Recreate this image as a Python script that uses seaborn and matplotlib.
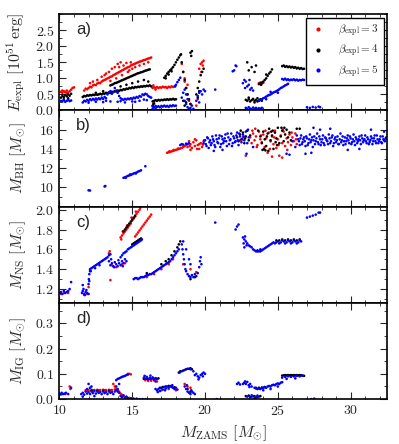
import numpy as np
import pandas as pd
import matplotlib
matplotlib.use("Agg")
import matplotlib.pyplot as plt
import seaborn as sns
from matplotlib.ticker import MultipleLocator, AutoMinorLocator

# ---------------- data ----------------
# panel a) explosion energy [1e51 erg]
a_red = [(10.1,0.58),(10.2,0.55),(10.3,0.6),(10.4,0.57),(10.5,0.62),(10.6,0.56),(10.7,0.6),(10.8,0.65),(10.9,0.7),(11.0,0.72),(10.2,0.62),(10.5,0.55),
         (11.7,0.62),(11.8,0.68),(11.9,0.66),(12.0,0.7),(12.1,0.74),(12.2,0.72),(12.3,0.78),(12.4,0.8),(12.5,0.79),(12.6,0.84),(12.7,0.86),(12.8,0.85),
         (12.9,0.9),(13.0,0.93),(13.1,0.95),(13.2,0.97),(13.3,1.0),(13.4,1.02),(13.5,1.05),(13.6,1.06),(13.7,1.1),(13.8,1.12),(13.9,1.15),(14.0,1.17),
         (14.1,1.2),(14.2,1.22),(14.3,1.25),(14.4,1.27),(14.5,1.3),(14.6,1.32),(14.7,1.35),(14.8,1.36),(14.9,1.4),(15.0,1.42),(15.1,1.44),(15.2,1.46),
         (15.3,1.48),(15.4,1.5),(15.5,1.52),(15.6,1.53),(15.7,1.55),(15.8,1.57),(15.9,1.58),(16.0,1.6),(16.1,1.62),(16.2,1.63),(16.3,1.65),
         (12.3,0.9),(12.6,0.95),(12.9,1.05),(13.2,1.15),(13.4,1.2),(13.6,1.3),(13.8,1.35),(14.0,1.45),(14.2,1.5),(14.4,1.4),(14.6,1.48),(14.8,1.25),
         (15.0,1.3),(15.2,1.35),(13.5,0.92),(13.9,1.0),(14.3,1.1),(14.7,1.2),(15.5,1.4),(15.8,1.45),(16.1,1.5),(13.1,1.1),(14.1,1.35),(14.9,1.5),(12.1,0.85),
         (16.4,0.7),(16.5,0.72),(16.6,0.7),(16.7,0.73),(16.8,0.7),(16.9,0.72),(17.0,0.71),(17.1,0.74),(17.2,0.72),(17.3,0.73),(17.4,0.7),(17.5,0.74),
         (17.6,0.72),(17.7,0.75),(17.8,0.73),(17.9,0.75),(16.45,0.78),(16.6,0.65),
         (18.4,1.45),(18.5,1.2),(18.6,0.9),(18.7,0.7),(18.8,0.5),(18.9,0.3),(19.0,0.2),(18.6,1.0),(18.8,0.8),(19.4,0.15),(19.5,0.35),(19.6,1.3),
         (19.7,1.45),(19.8,1.5),(19.85,1.4),(19.9,1.55),(19.75,1.2),(23.7,0.85),(23.8,0.87),(23.9,0.84),(24.0,0.86)]
a_blk = [(10.1,0.4),(10.2,0.45),(10.3,0.42),(10.4,0.48),(10.5,0.44),(10.6,0.5),(10.7,0.46),(10.8,0.52),(10.3,0.35),(10.6,0.38),
         (11.6,0.42),(11.7,0.45),(11.8,0.44),(11.9,0.47),(12.0,0.46),(12.1,0.48),(12.2,0.47),(12.3,0.49),(12.4,0.48),(12.5,0.5),(12.6,0.49),(12.7,0.5),
         (12.8,0.52),(12.9,0.5),(13.0,0.53),(13.1,0.52),(13.2,0.55),(13.3,0.54),(13.4,0.56),(13.5,0.55),(13.6,0.58),(13.7,0.57),(13.8,0.6),(13.9,0.59),
         (14.0,0.62),(14.1,0.61),(14.2,0.64),(14.3,0.63),(14.4,0.66),(14.5,0.65),(14.6,0.68),(14.7,0.67),(14.8,0.7),(14.9,0.69),(15.0,0.72),(15.1,0.7),
         (15.2,0.73),(15.3,0.72),(15.4,0.74),(15.5,0.73),(15.6,0.75),(15.7,0.74),(15.8,0.76),(15.9,0.75),(16.0,0.77),(16.1,0.76),(16.2,0.78),(16.3,0.75),
         (13.5,0.78),(13.6,0.8),(13.7,0.82),(13.8,0.85),(13.9,0.86),(14.0,0.88),(14.1,0.9),(14.2,0.92),(14.3,0.94),(14.4,0.96),(14.5,0.98),(14.6,1.0),
         (14.7,1.02),(14.8,1.04),(14.9,1.06),(15.0,1.08),(15.1,1.1),(15.2,1.12),(15.3,1.14),(15.4,1.16),(15.5,1.17),(15.6,1.19),(15.7,1.2),(15.8,1.22),
         (15.9,1.24),(16.0,1.25),(16.1,1.27),(16.2,1.28),(14.2,0.75),(14.6,0.8),(15.0,0.85),(15.4,0.9),(15.8,0.95),(16.1,0.9),(12.5,0.55),(13.0,0.6),
         (16.4,0.28),(16.5,0.3),(16.6,0.32),(16.7,0.3),(16.8,0.33),(16.9,0.31),(17.0,0.33),(17.1,0.32),(17.2,0.34),(17.3,0.33),(17.4,0.35),(17.5,0.33),
         (17.6,0.35),(17.7,0.34),(17.8,0.36),(17.9,0.34),(18.0,0.35),(16.4,0.15),(16.45,0.2),(16.5,0.22),
         (17.2,1.02),(17.3,1.08),(17.4,1.15),(17.5,1.2),(17.6,1.25),(17.7,1.3),(17.8,1.35),(17.9,1.42),(18.0,1.5),(18.1,1.58),(18.2,1.65),(18.3,1.72),
         (18.35,1.75),(17.3,1.0),(17.5,1.12),(17.7,1.22),
         (18.4,1.5),(18.5,1.2),(18.6,0.95),(18.7,0.7),(18.8,0.5),(18.9,0.35),(19.0,0.2),(18.5,0.3),(18.6,0.15),(18.7,0.25),(19.0,1.8),(19.05,1.7),(19.1,1.85),
         (19.4,0.5),(19.5,0.7),(19.6,0.9),(19.7,1.1),(19.8,1.2),(19.5,0.4),(19.9,1.3),(19.6,0.6),
         (22.9,1.5),(23.0,1.25),(23.2,1.35),(23.4,1.2),(23.5,1.4),
         (23.7,0.82),(23.8,0.85),(23.9,0.87),(24.0,0.9),(24.1,0.95),(24.2,1.0),(24.3,1.08),(24.4,1.15),(24.5,1.2),(24.6,1.28),(24.2,1.12),(23.85,0.8),
         (22.8,0.33),(22.9,0.3),(23.0,0.35),(23.1,0.28),(23.2,0.32),(23.3,0.36),(23.4,0.3),(23.5,0.33),(23.6,0.28),(23.7,0.31),(23.8,0.35),(23.9,0.3),
         (23.0,0.4),(23.4,0.25),(23.6,0.38),
         (25.3,1.38),(25.4,1.4),(25.5,1.36),(25.6,1.38),(25.7,1.35),(25.8,1.37),(25.9,1.34),(26.0,1.36),(26.1,1.33),(26.2,1.35),(26.3,1.31),(26.4,1.33),
         (26.5,1.3),(26.6,1.32),(26.7,1.29),(26.8,1.3)]
a_blu = [(10.1,0.3),(10.2,0.28),(10.3,0.32),(10.4,0.27),(10.5,0.3),(10.6,0.33),(10.7,0.29),(10.8,0.31),
         (11.6,0.25),(11.7,0.3),(11.8,0.28),(11.9,0.33),(12.0,0.3),(12.1,0.35),(12.2,0.32),(12.3,0.36),(12.4,0.33),(12.5,0.37),(12.6,0.34),(12.7,0.38),
         (12.8,0.35),(12.9,0.4),(13.0,0.36),(13.1,0.42),(13.2,0.38),(13.3,0.5),(13.4,0.55),(13.5,0.6),(13.6,0.52),(13.7,0.58),(13.8,0.7),(13.9,0.62),
         (14.0,0.55),(14.1,0.45),(14.2,0.38),(14.3,0.35),(14.4,0.33),(14.5,0.36),(14.6,0.34),(14.7,0.37),(14.8,0.35),(14.9,0.38),(15.0,0.36),(15.1,0.4),
         (15.2,0.38),(15.3,0.42),(15.4,0.4),(15.5,0.45),(15.6,0.43),(15.7,0.5),(15.8,0.48),(15.9,0.52),(16.0,0.5),(16.1,0.45),(16.2,0.42),(16.3,0.4),
         (12.5,0.27),(13.0,0.26),(13.5,0.28),(14.0,0.27),(14.5,0.25),(15.0,0.28),(15.5,0.3),(16.0,0.32),(12.0,0.24),(13.2,0.3),(14.2,0.29),(15.2,0.27),(15.8,0.34),
         (16.4,0.12),(16.5,0.1),(16.6,0.14),(16.7,0.11),(16.8,0.13),(16.9,0.1),(17.0,0.14),(17.1,0.12),(17.2,0.15),(17.3,0.12),(17.4,0.14),(17.5,0.11),
         (17.6,0.15),(17.7,0.13),(17.8,0.16),(17.9,0.14),(18.0,0.15),(16.4,0.05),(16.6,0.06),
         (17.95,0.75),(18.0,0.8),(18.1,0.88),(18.2,0.95),(18.3,1.02),
         (18.4,0.4),(18.5,0.55),(18.6,0.3),(18.7,0.2),(18.8,0.1),(18.9,0.05),(19.0,0.08),(18.6,0.65),(18.8,0.35),(19.1,0.15),(19.2,0.05),(18.7,0.5),
         (19.4,0.3),(19.5,0.45),(19.6,0.55),(19.7,0.6),(19.8,0.5),(19.9,0.65),(20.0,0.6),(19.6,0.25),(20.7,0.65),
         (22.0,1.25),(22.1,1.4),(21.9,1.22),(22.15,1.38),
         (22.6,0.85),(22.7,0.95),(22.8,0.9),(22.9,0.75),(23.0,0.8),(23.1,0.65),(23.2,0.7),(23.3,0.62),(22.75,0.7),(23.05,0.95),
         (22.8,0.08),(22.9,0.05),(23.0,0.1),(23.1,0.06),(23.2,0.04),(23.3,0.09),(23.4,0.05),(23.5,0.08),(23.6,0.04),(23.7,0.07),(23.8,0.05),(23.9,0.08),
         (23.7,0.3),(23.8,0.33),(23.9,0.35),(24.0,0.38),(24.1,0.4),(24.2,0.43),(24.3,0.46),(24.4,0.48),(24.5,0.5),(24.6,0.53),(24.7,0.56),(24.8,0.58),
         (24.9,0.6),(25.0,0.63),(25.1,0.66),(25.2,0.7),(25.3,0.72),(25.4,0.75),(25.5,0.78),(25.6,0.8),(25.7,0.83),(24.5,0.58),(25.0,0.55),(24.2,0.35),
         (25.3,0.98),(25.4,0.96),(25.5,0.99),(25.6,0.95),(25.7,0.97),(25.8,0.94),(25.9,0.96),(26.0,0.95),(26.1,0.97),(26.2,0.94),(26.3,0.96),(26.4,0.93),
         (26.5,0.95),(26.6,0.94),(26.7,0.96),(26.8,0.95),
         (27.0,0.1),(27.2,0.08),(27.4,0.11),(27.6,0.09),(27.8,0.12),(27.9,0.1)]

# panel b) black hole mass [Msun]
b_red = [(17.4,13.6),(17.5,13.65),(17.6,13.7),(17.7,13.75),(17.8,13.8),(17.9,13.85),(18.0,13.9),(18.1,13.95),(18.2,14.0),(18.3,14.05),(18.4,14.1),
         (18.5,14.2),(18.6,14.3),(18.7,14.4),(17.55,13.75),(17.85,13.9),(18.15,14.05),
         (18.8,14.2),(18.9,14.8),(19.0,14.5),(19.1,14.1),(19.2,14.7),(19.3,14.3),(19.4,14.9),(19.5,14.4),(19.6,14.0),(19.7,14.6),(19.8,14.2),(19.9,14.8),
         (19.0,13.9),(19.3,15.0),(19.6,14.5),(18.95,14.3),(19.45,14.0),(19.85,14.45),
         (23.1,15.2),(23.2,14.6),(23.3,15.6),(23.4,14.9),(23.5,15.3),(23.6,14.4),(23.7,15.8),(23.8,15.0),(23.9,14.7),(24.0,15.5),(24.1,14.2),(24.2,15.1),
         (24.3,13.6),(24.4,15.7),(24.5,14.8),(24.6,15.3),(24.7,14.5),(24.8,15.9),(24.9,14.1),(25.0,15.0),(25.1,13.3),(25.2,15.4),(25.3,14.6),(25.4,15.8),
         (25.5,14.3),(25.6,15.1),(25.7,14.7),(25.8,15.5),(25.9,14.4),(26.0,15.2),(26.1,14.8),(26.2,15.6),(26.3,14.5),(23.25,15.9),(23.55,14.2),
         (23.85,15.4),(24.15,15.9),(24.45,14.0),(24.75,15.2),(25.05,14.4),(25.35,16.0),(25.65,13.9),(25.95,15.7),(26.25,15.0),(23.45,16.1),(24.6,13.2),
         (22.4,14.9),(22.6,15.2),(22.8,13.3),(25.3,13.1)]
b_blk = [(22.2,15.2),(22.3,14.8),(22.4,15.5),(22.5,15.0),(22.6,15.7),(22.7,14.6),(22.8,15.3),(22.9,15.9),(23.0,14.9),(23.1,15.4),(22.45,15.9),(22.75,15.1),
         (23.8,15.3),(23.9,14.6),(24.0,15.8),(24.1,15.0),(24.2,14.3),(24.3,15.6),(24.4,16.1),(24.5,14.9),(24.6,15.4),(24.7,14.0),(24.8,15.7),(24.9,15.1),
         (25.0,16.2),(25.1,14.6),(25.2,15.3),(25.3,15.9),(25.4,14.8),(25.5,15.5),(25.6,16.0),(25.7,15.2),(25.8,15.7),(25.9,14.9),(24.05,14.0),(24.35,13.8),
         (24.65,15.9),(24.95,14.4),(25.25,16.2),(24.25,15.3),(24.55,15.8),(24.85,14.7),(23.95,13.9),(24.15,13.85),(23.65,15.9),(25.45,16.2),(26.3,16.1),(26.5,16.1)]
b_blu = [(12.0,9.7),(12.1,9.68),(13.1,10.1),(13.15,10.15),
         (14.4,11.0),(14.5,11.05),(14.6,11.12),(14.7,11.2),(14.8,11.25),(14.9,11.3),(15.0,11.38),(15.1,11.45),(15.2,11.5),(15.3,11.55),(15.4,11.65),
         (15.5,11.7),(15.6,11.78),(14.55,11.0),(14.85,11.35),(15.25,11.45),(15.9,12.2),
         (18.3,14.4),(18.5,14.45),(18.7,14.55),(18.9,14.6),(18.4,14.5),(18.8,14.5),
         (19.9,14.6),(20.0,14.9),(20.1,14.3),(20.2,15.1),(20.3,14.7),(20.4,14.4),(20.5,15.3),(20.6,14.8),(20.7,14.2),(20.8,15.0),(20.9,14.6),(21.0,15.4),
         (21.1,14.5),(21.2,15.0),(21.3,14.8),(21.4,15.5),(21.5,14.3),(21.6,15.2),(21.7,14.9),(21.8,15.6),(21.9,14.6),(22.0,15.1),(22.1,14.8),(22.2,15.7),
         (22.3,14.4),(22.4,15.3),(22.5,14.7),(22.6,15.5),(22.7,14.9),(22.8,15.8),(22.9,14.6),(23.0,15.2),
         (19.95,14.9),(20.05,14.5),(20.15,15.2),(20.25,14.1),(20.35,14.9),(20.45,14.6),(20.55,15.0),(20.65,14.4),(20.75,15.4),(20.85,14.7),(20.95,15.1),
         (21.05,14.2),(21.15,15.3),(21.25,14.6),(21.35,15.1),(21.45,14.8),(21.55,15.6),(21.65,14.5),(21.75,15.0),(21.85,14.3),(21.95,15.3),(22.05,14.7),
         (22.15,15.4),(22.25,14.9),(22.35,15.6),(22.55,15.0),(22.65,15.3),(21.2,13.9),(20.6,13.8),(22.85,13.5),(22.95,16.0),
         (26.4,15.0),(26.5,14.4),(26.6,15.4),(26.7,14.7),(26.8,15.2),(26.9,14.3),(27.0,15.1),(27.1,14.6),(27.2,15.5),(27.3,14.9),(27.4,14.2),(27.5,15.3),
         (27.6,14.8),(27.7,15.6),(27.8,14.5),(27.9,15.0),(28.0,14.7),(28.1,15.4),(28.2,14.4),(28.3,15.1),(28.4,14.8),(28.5,15.5),(28.6,14.6),(28.7,15.2),
         (28.8,14.3),(28.9,15.0),(29.0,14.7),(29.1,15.3),(29.2,14.5),(29.3,15.6),(29.4,14.9),(29.5,14.4),(29.6,15.2),(29.7,14.8),(29.8,15.4),(29.9,14.6),
         (30.0,15.1),(30.1,14.7),(30.2,15.5),(30.3,14.4),(30.4,15.0),(30.5,14.8),(30.6,15.3),(30.7,14.5),(30.8,15.1),(30.9,14.9),(31.0,15.4),(31.1,14.6),
         (31.2,15.0),(31.3,14.7),(31.4,15.3),(31.5,14.5),(31.6,15.1),(31.7,14.8),(31.8,15.4),(31.9,14.6),(32.0,15.0),(32.1,14.7),(32.2,15.3),(32.3,14.9),
         (32.4,15.1),
         (26.45,14.8),(26.55,15.1),(26.65,14.5),(26.75,15.0),(26.85,14.8),(26.95,15.3),(27.05,14.4),(27.15,15.0),(27.25,14.7),(27.35,15.2),(27.45,14.9),
         (27.55,14.5),(27.65,15.1),(27.75,14.7),(27.85,15.3),(27.95,14.4),(28.05,15.0),(28.15,14.6),(28.25,15.2),(28.35,14.9),(28.45,14.5),(28.55,15.1),
         (28.65,14.8),(28.75,15.4),(28.85,14.6),(28.95,15.2),(29.05,14.9),(29.15,14.5),(29.25,15.0),(29.35,14.7),(29.45,15.3),(29.55,14.8),(29.65,14.5),
         (29.75,15.1),(29.85,14.9),(29.95,15.3),(30.05,14.5),(30.15,15.0),(30.25,14.8),(30.35,15.2),(30.45,14.6),(30.55,15.0),(30.65,14.9),(30.75,15.4),
         (30.85,14.7),(30.95,15.0),(31.05,14.8),(31.15,15.2),(31.25,14.5),(31.35,14.9),(31.45,15.1),(31.55,14.8),(31.65,15.4),(31.75,14.6),(31.85,15.0),
         (31.95,14.8),(32.05,15.3),(32.15,14.6),(32.25,15.0),(32.35,14.8),(32.45,15.2),(27.3,13.6),(28.6,16.1),(27.9,16.0),(26.9,13.5),(29.8,13.9),
         (31.4,16.0),(32.3,15.8),(30.6,14.0),(27.45,16.2),
         (23.3,14.2),(25.6,13.5),(25.8,13.4),(26.2,14.2),(26.0,14.8),(26.3,15.4)]

# panel c) neutron star mass [Msun]
c_red = [(10.1,1.15),(10.3,1.16),(10.6,1.16),(11.7,1.14),(11.9,1.15),(12.0,1.22),
         (14.2,1.72),(14.3,1.74),(14.4,1.76),(14.5,1.78),(14.6,1.8),(14.7,1.82),(14.8,1.84),(14.9,1.86),(15.0,1.89),(15.1,1.91),(15.2,1.93),(15.3,1.96),
         (15.4,1.98),(15.5,2.0),(15.55,2.02),(14.35,1.78),(14.65,1.84),(14.95,1.92),(15.25,1.98),(14.25,1.7),
         (15.2,1.73),(15.3,1.75),(15.4,1.77),(15.5,1.79),(15.6,1.81),(15.7,1.83),(15.8,1.85),(15.9,1.87),(16.0,1.89),(16.1,1.91),(16.2,1.93),(16.3,1.95),
         (13.5,1.29),(13.4,1.56),(13.45,1.58),(13.6,1.44),(13.9,1.42),(14.3,1.45),(14.5,1.46),
         (16.0,1.32),(16.5,1.35),(17.0,1.4),(17.5,1.45),(17.8,1.5),(18.5,1.45),(19.0,1.4),(19.4,1.37)]
c_blk = [(14.4,1.78),(14.5,1.8),(14.6,1.82),(14.7,1.84),(14.8,1.86),(14.9,1.88),(15.0,1.9),(15.1,1.92),(15.2,1.94),
         (15.0,1.65),(15.1,1.66),(15.2,1.67),(15.3,1.68),(15.4,1.69),(15.5,1.7),(15.6,1.71),
         (16.0,1.36),(17.0,1.45),(17.3,1.48),(17.5,1.5),(17.7,1.54),(17.9,1.58),(18.1,1.62),(18.2,1.65),(18.3,1.68),(19.0,1.3),(19.3,1.32),
         (24.9,1.69),(25.1,1.69),(25.3,1.7),(25.5,1.69),(25.7,1.7),(25.9,1.69),(26.1,1.7),(26.3,1.69),(26.5,1.7),(23.6,1.58),(23.8,1.58)]
c_blu = [(10.05,1.16),(10.1,1.17),(10.2,1.15),(10.3,1.18),(10.4,1.16),(10.5,1.17),(10.6,1.18),(10.8,1.27),(10.7,1.2),
         (11.55,1.16),(11.6,1.18),(11.7,1.15),(11.8,1.17),(11.9,1.16),(12.0,1.15),(11.6,1.24),(11.65,1.2),(11.75,1.14),(11.85,1.19),
         (12.0,1.25),(12.02,1.3),(12.05,1.35),(12.05,1.28),(12.1,1.38),
         (12.1,1.4),(12.2,1.41),(12.3,1.42),(12.4,1.43),(12.5,1.44),(12.6,1.45),(12.7,1.46),(12.8,1.47),(12.9,1.48),(13.0,1.49),(13.1,1.5),(13.2,1.51),
         (13.3,1.52),(13.4,1.54),(13.5,1.55),(12.15,1.38),(12.45,1.41),(12.75,1.44),
         (13.4,1.48),(13.5,1.44),(13.6,1.46),(13.7,1.43),(13.8,1.47),(13.9,1.45),(14.0,1.43),(14.1,1.46),(14.2,1.44),(14.3,1.48),(14.4,1.46),(14.5,1.5),
         (14.6,1.48),(13.55,1.5),(13.75,1.42),(14.05,1.49),(14.35,1.43),
         (14.2,1.52),(14.3,1.54),(14.4,1.56),(14.5,1.57),(14.6,1.58),(14.7,1.6),(14.8,1.61),(14.9,1.62),(15.0,1.63),(15.1,1.64),(15.2,1.65),(15.3,1.66),
         (15.4,1.67),(15.5,1.68),(15.6,1.69),(15.66,1.7),
         (15.1,1.3),(15.3,1.31),(15.5,1.31),(15.7,1.32),(15.9,1.33),(16.1,1.34),(16.3,1.35),(16.5,1.37),(16.7,1.39),(16.9,1.41),(17.1,1.43),(17.3,1.45),
         (17.5,1.47),(17.7,1.5),(17.9,1.54),(18.1,1.58),(15.2,1.31),(15.4,1.3),(15.6,1.32),(15.8,1.32),(16.0,1.34),(16.2,1.35),(16.4,1.36),(16.6,1.38),
         (16.8,1.4),(17.0,1.42),(17.2,1.44),(17.4,1.46),(17.6,1.48),(17.8,1.52),(18.0,1.56),(18.2,1.6),
         (18.4,1.65),(18.45,1.6),(18.5,1.55),(18.55,1.5),(18.6,1.45),(18.65,1.4),(18.7,1.38),(18.5,1.68),(18.8,1.35),(18.9,1.33),(19.0,1.32),(19.1,1.34),
         (19.2,1.32),(19.3,1.35),(19.4,1.33),(19.5,1.36),(19.6,1.42),(19.65,1.48),(19.7,1.52),(19.75,1.45),(18.9,1.5),(19.0,1.45),(18.7,1.6),
         (20.7,1.87),(22.1,1.8),(22.2,1.83),(22.3,1.85),
         (22.6,1.72),(22.7,1.7),(22.8,1.68),(22.9,1.66),(23.0,1.64),(23.1,1.63),(22.65,1.66),(22.75,1.73),(22.85,1.64),(23.2,1.62),(22.7,1.62),
         (23.3,1.6),(23.4,1.59),(23.5,1.58),(23.6,1.59),(23.7,1.58),(23.8,1.6),(23.9,1.59),(24.0,1.6),(24.1,1.61),(24.2,1.62),(24.3,1.63),(24.4,1.64),
         (24.5,1.65),(24.6,1.66),(24.7,1.67),(24.8,1.66),(24.9,1.67),(25.0,1.68),(25.2,1.67),(25.4,1.68),(25.6,1.67),(25.8,1.68),(26.0,1.67),(26.2,1.68),
         (26.4,1.67),(26.6,1.68),(25.1,1.66),(25.3,1.69),(25.5,1.66),(25.7,1.69),(25.9,1.66),(26.1,1.69),(26.3,1.66),(26.5,1.69),
         (27.0,1.92),(27.2,1.93),(27.4,1.94),(27.6,1.95),(27.8,1.97),(27.9,1.97)]

# panel d) IG mass [Msun]
d_red = [(10.1,0.018),(10.4,0.02),(10.7,0.05),(10.75,0.04),
         (11.8,0.035),(12.0,0.036),(12.2,0.037),(12.4,0.036),(12.6,0.037),(12.8,0.036),(13.0,0.037),(13.2,0.036),(13.4,0.037),(13.6,0.036),(13.8,0.038),
         (11.9,0.033),(12.3,0.035),(12.7,0.035),(13.1,0.035),(13.5,0.035),(13.9,0.04),
         (14.0,0.035),(14.1,0.03),(14.2,0.022),(14.3,0.017),(14.4,0.012),(14.6,0.008),(14.8,0.005),(15.0,0.004),
         (14.7,0.1),(14.8,0.1),(14.9,0.098),
         (15.9,0.075),(16.1,0.072),(16.3,0.073),(16.5,0.074),(16.7,0.07),(17.0,0.035),(17.5,0.04),(18.0,0.035),
         (18.6,0.06),(18.8,0.05),(19.0,0.045),(13.7,0.06),(13.8,0.05)]
d_blk = [(12.2,0.034),(12.6,0.033),(13.0,0.033),(13.4,0.033),
         (15.8,0.08),(16.0,0.081),(16.2,0.081),(16.4,0.082),(16.6,0.082),(16.8,0.082),
         (16.9,0.045),(17.1,0.048),(17.3,0.05),(17.5,0.052),(17.7,0.05),(17.9,0.047),
         (18.2,0.105),(18.3,0.11),(18.5,0.113),(18.7,0.118),(18.9,0.12),(19.0,0.122),(19.1,0.118),(18.8,0.04),(19.0,0.03),
         (23.5,0.045),(23.7,0.045),(23.9,0.046),(24.1,0.048),
         (25.3,0.093),(25.4,0.094),(25.5,0.095),(25.6,0.094),(25.7,0.095),(25.8,0.094),(25.9,0.095),(26.0,0.094),(26.1,0.095),(26.2,0.094),(26.3,0.095),
         (26.4,0.094),(26.5,0.095),(26.6,0.094),(26.7,0.093),(26.8,0.092),
         (22.8,0.012),(23.0,0.014),(23.2,0.01),(23.4,0.012),(23.6,0.01),(23.8,0.012)]
d_blu = [(10.05,0.02),(10.15,0.025),(10.25,0.02),(10.35,0.022),(10.45,0.025),(10.6,0.02),(10.8,0.045),
         (11.5,0.02),(11.6,0.025),(11.7,0.018),(11.8,0.03),(11.9,0.022),(12.0,0.028),(12.1,0.02),(12.2,0.03),(12.3,0.024),(12.4,0.032),(12.5,0.022),
         (12.6,0.03),(12.7,0.025),(12.8,0.028),(12.9,0.02),(13.0,0.03),(13.1,0.024),(13.2,0.028),(13.3,0.02),(13.4,0.03),(13.5,0.025),(13.6,0.028),
         (13.7,0.02),(13.8,0.03),(13.9,0.035),(14.0,0.03),(14.1,0.025),(12.0,0.06),(12.1,0.045),(11.9,0.04),(12.2,0.05),(11.6,0.01),(12.4,0.012),
         (14.2,0.012),(14.3,0.008),(14.5,0.006),(14.7,0.004),(14.9,0.003),(15.1,0.002),(15.3,0.002),(15.5,0.0),(15.7,0.0),(15.9,0.0),(14.4,0.015),(14.6,0.01),
         (13.9,0.075),(14.0,0.08),(14.1,0.082),(14.2,0.085),(14.3,0.088),(14.4,0.09),(14.5,0.092),(14.6,0.095),(14.7,0.097),(14.1,0.06),(13.9,0.05),(14.0,0.04),
         (15.8,0.085),(15.9,0.08),(16.0,0.088),(16.1,0.078),(16.2,0.084),(16.3,0.08),(16.4,0.086),(16.5,0.079),(16.6,0.083),(16.7,0.08),(15.85,0.092),
         (16.25,0.093),(16.6,0.07),
         (16.7,0.035),(16.8,0.04),(16.9,0.032),(17.0,0.045),(17.1,0.038),(17.2,0.048),(17.3,0.042),(17.4,0.05),(17.5,0.045),(17.6,0.052),(17.7,0.048),
         (17.8,0.045),(17.9,0.04),(18.0,0.045),(18.1,0.038),(16.75,0.028),(17.25,0.035),(17.75,0.055),(16.6,0.04),
         (18.25,0.105),(18.4,0.11),(18.6,0.115),(18.8,0.12),(19.0,0.118),(19.2,0.11),(19.4,0.1),(19.5,0.09),(19.6,0.085),(19.7,0.095),(19.8,0.1),
         (19.9,0.105),(20.0,0.1),(19.3,0.095),(19.55,0.078),(19.85,0.09),
         (18.6,0.05),(18.7,0.04),(18.8,0.03),(18.9,0.025),(19.0,0.02),(19.1,0.03),(19.2,0.025),(18.75,0.055),(19.05,0.035),(19.3,0.02),(20.8,0.0),
         (22.2,0.06),(22.3,0.065),(22.4,0.058),(22.6,0.06),
         (22.7,0.065),(22.8,0.06),(22.9,0.068),(23.0,0.055),(23.1,0.06),(23.2,0.05),(22.75,0.07),(23.05,0.048),
         (23.4,0.045),(23.5,0.042),(23.6,0.04),(23.7,0.042),(23.8,0.04),(23.9,0.043),(24.0,0.045),(24.1,0.047),(24.2,0.045),(24.3,0.05),(24.4,0.052),
         (24.5,0.05),(24.6,0.055),(24.7,0.057),(24.8,0.055),(24.9,0.06),(25.0,0.062),(25.1,0.06),(25.2,0.065),(25.3,0.067),(24.0,0.035),(24.5,0.04),(25.0,0.05),
         (25.3,0.085),(25.5,0.088),(25.7,0.09),(25.9,0.088),(26.1,0.09),(26.3,0.092),(26.5,0.09),(26.7,0.093),(25.6,0.08),(26.2,0.082),
         (22.9,0.01),(23.1,0.008),(23.3,0.012),(23.5,0.006),(23.7,0.01),(23.2,0.015),(23.6,0.014),(23.4,0.004),(27.3,0.0),(27.5,0.002)]

betas = [3, 4, 5]
colors = {3: "red", 4: "black", 5: "blue"}
panels = [("a)", [a_red, a_blk, a_blu], r"$E_{\rm expl}\ [10^{51}\,{\rm erg}]$", (0, 3.0), [0, 0.5, 1.0, 1.5, 2.0, 2.5]),
          ("b)", [b_red, b_blk, b_blu], r"$M_{\rm BH}\ [M_{\odot}]$", (8, 18), [10, 12, 14, 16]),
          ("c)", [c_red, c_blk, c_blu], r"$M_{\rm NS}\ [M_{\odot}]$", (1.06, 2.03), [1.2, 1.4, 1.6, 1.8, 2.0]),
          ("d)", [d_red, d_blk, d_blu], r"$M_{\rm IG}\ [M_{\odot}]$", (0, 0.38), [0.0, 0.1, 0.2, 0.3])]


def to_frame(series):
    rows = []
    for beta, pts in zip(betas, series):
        for x, y in pts:
            rows.append({"mzams": x, "val": y, "beta": beta})
    return pd.DataFrame(rows)


sns.set_style("ticks")
plt.rcParams["font.family"] = "serif"
plt.rcParams["font.serif"] = ["cmr10", "DejaVu Serif"]
plt.rcParams["mathtext.fontset"] = "cm"
plt.rcParams["axes.formatter.use_mathtext"] = True
plt.rcParams["axes.unicode_minus"] = False

fig, axes = plt.subplots(4, 1, figsize=(3.99, 4.44), dpi=100, sharex=True)
fig.subplots_adjust(left=0.149, right=0.970, bottom=0.101, top=0.968, hspace=0)

for i, (ax, (tag, series, ylab, ylim, yticks)) in enumerate(zip(axes, panels)):
    df = to_frame(series)
    sns.scatterplot(data=df, x="mzams", y="val", hue="beta", palette=colors,
                    s=3.5, linewidth=0, marker="o", ax=ax, legend=(i == 0))
    ax.set_xlim(10, 32.5)
    ax.set_ylim(*ylim)
    ax.set_yticks(yticks)
    ax.yaxis.set_minor_locator(AutoMinorLocator(2))
    ax.xaxis.set_major_locator(MultipleLocator(5))
    ax.xaxis.set_minor_locator(MultipleLocator(1))
    ax.tick_params(which="both", direction="in", top=True, right=True, labelsize=10)
    ax.tick_params(which="major", length=5, width=0.8)
    ax.tick_params(which="minor", length=2.5, width=0.6)
    for sp in ax.spines.values():
        sp.set_linewidth(1.2)
        sp.set_color("black")
    ax.set_ylabel(ylab, fontsize=11.5, labelpad=5)
    ax.set_xlabel("")
    ax.text(0.05, 0.84, tag, transform=ax.transAxes, fontsize=12,
            family="Liberation Sans", ha="left", va="center")

# legend in panel a
h, l = axes[0].get_legend_handles_labels()
axes[0].legend(h, [r"$\beta_{\rm expl}=%d$" % b for b in betas], loc="upper right",
               fontsize=8, markerscale=1.6, frameon=True, fancybox=False,
               edgecolor="black", framealpha=1, handletextpad=1.2, handlelength=1.2,
               borderpad=0.45, labelspacing=0.35, borderaxespad=0.3)
axes[0].get_legend().get_frame().set_linewidth(1.0)

axes[-1].set_xlabel(r"$M_{\rm ZAMS}\ [M_{\odot}]$", fontsize=11.5)
fig.align_ylabels(axes)

fig.savefig("out.png", dpi=100)
